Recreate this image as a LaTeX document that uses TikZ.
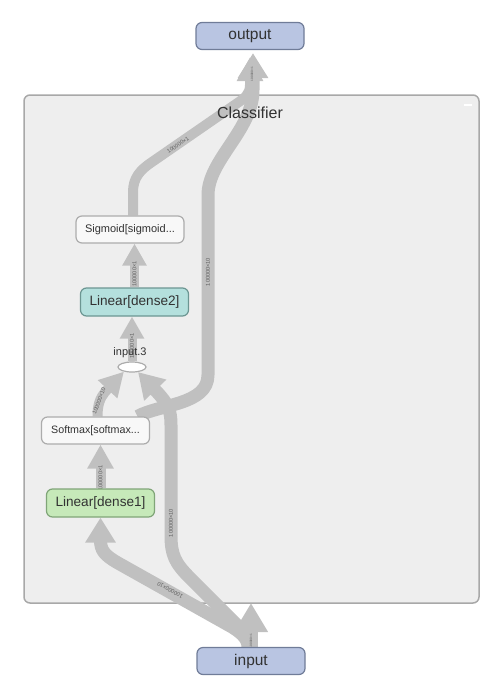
\documentclass[tikz,border=0pt]{standalone}
\usepackage{fontspec}
\setmainfont{Liberation Sans}
\usetikzlibrary{arrows.meta,shapes.geometric}

\definecolor{clsfill}{RGB}{238,238,238}
\definecolor{clsline}{RGB}{168,168,168}
\definecolor{iofill}{RGB}{185,197,226}
\definecolor{ioline}{RGB}{112,124,152}
\definecolor{tealfill}{RGB}{180,224,221}
\definecolor{tealline}{RGB}{108,150,146}
\definecolor{greenfill}{RGB}{198,233,185}
\definecolor{greenline}{RGB}{128,165,120}
\definecolor{opfill}{RGB}{248,248,248}
\definecolor{opline}{RGB}{172,172,172}
\definecolor{edgecol}{RGB}{192,192,192}
\definecolor{txt}{RGB}{50,50,50}
\definecolor{lbl}{RGB}{95,95,95}

\pgfdeclarelayer{back}
\pgfdeclarelayer{flow}
\pgfsetlayers{back,flow,main}

\begin{document}
\begin{tikzpicture}[x=1pt,y=-1pt,
  box/.style={rounded corners=6pt, line width=1.2pt, inner sep=0pt,
    minimum width=108pt, minimum height=27pt, text=txt},
  ionode/.style={box, draw=ioline, fill=iofill, font=\fontsize{15.5}{18}\selectfont},
  opnode/.style={box, draw=opline, fill=opfill, font=\fontsize{11}{13}\selectfont},
  densetwo/.style={box, draw=tealline, fill=tealfill, minimum height=28pt, font=\fontsize{13.6}{16}\selectfont},
  denseone/.style={box, draw=greenline, fill=greenfill, minimum height=28pt, font=\fontsize{13.6}{16}\selectfont},
  thinedge/.style={draw=edgecol, line width=9pt, line join=round,
    -{Triangle[width=23pt,length=22pt]}},
  midedge/.style={draw=edgecol, line width=10pt, line join=round,
    -{Triangle[width=25pt,length=24pt]}},
  thickedge/.style={draw=edgecol, line width=13pt, line join=round,
    -{Triangle[width=29pt,length=25pt]}},
  elabel/.style={text=lbl, inner sep=0pt, font=\fontsize{5.6}{6}\selectfont},
  tinylabel/.style={text=lbl, inner sep=0pt, font=\fontsize{3.2}{4}\selectfont}
]
\useasboundingbox (0,0) rectangle (498,686);

% the Classifier group
\begin{pgfonlayer}{back}
  \node[draw=clsline, fill=clsfill, line width=1.5pt, rounded corners=6pt,
        minimum width=455pt, minimum height=508pt, inner sep=0pt] (cls) at (251.5,349) {};
  \draw[white, line width=2pt] (464,105) -- (472,105);
\end{pgfonlayer}
\node[text=txt, font=\fontsize{16}{18}\selectfont] (title) at (250,113) {Classifier};

% graph nodes
\node[ionode] (out) at (250,36) {output};
\node[ionode] (inp) at (251,661) {input};
\node[opnode] (sig) at (130,229.5) {Sigmoid[sigmoid...};
\node[densetwo] (d2) at (134.5,302) {Linear[dense2]};
\node[ellipse, draw=opline, fill=white, line width=1.2pt, minimum width=28pt,
      minimum height=10pt, inner sep=0pt] (ell) at (132,367) {};
\node[text=txt, font=\fontsize{11}{13}\selectfont] (elltext) at (130,353) {input.3};
\node[opnode, minimum width=108pt, font=\fontsize{10.7}{13}\selectfont] (sm) at (95.5,430.5) {Softmax[softmax...};
\node[denseone] (d1) at (100.5,503) {Linear[dense1]};

\coordinate (clsin) at (251,603);

% data flow
\begin{pgfonlayer}{flow}
  % into the group
  \draw[thickedge, line width=14pt, -{Triangle[width=32pt,length=29pt]}] (inp.north) -- (clsin);
  % input -> dense1
  \draw[thickedge] ([xshift=-3pt]inp.north) .. controls (248,638) and (240,632) .. (232,627)
    -- (118,563) .. controls (104,555) and (100.5,550) .. (100.5,540) -- (d1.south);
  % input -> input.3
  \draw[thickedge] (inp.north) .. controls (251,640) and (246,634) .. (240,628)
    -- (190,578) .. controls (175,563) and (171,555) .. (171,535)
    -- (171,425) .. controls (171,410) and (168,404) .. (157,392) -- (ell.-40);
  % dense1 -> softmax
  \draw[midedge] (d1.north) -- (d1.north |- sm.south);
  % softmax -> input.3
  \draw[midedge] ([xshift=2pt]sm.north) .. controls (97.5,405) and (100,398) .. (105,392) -- (ell.-150);
  % softmax -> output
  \draw[thickedge, shorten >=3pt] ([xshift=42pt]sm.north) .. controls (160,404) and (208,405) .. (208,375)
    -- (208,195) .. controls (208,160) and (253,130) .. (253,90) -- ([xshift=3pt]out.south);
  % input.3 -> dense2
  \draw[thinedge] (ell.north) -- (ell.north |- d2.south);
  % dense2 -> sigmoid
  \draw[thinedge] (d2.north) -- (d2.north |- sig.south);
  % sigmoid -> output
  \draw[midedge, shorten >=7pt] ([xshift=3pt]sig.north) -- (133,192)
    .. controls (133,178) and (140,170) .. (152,162) -- (236,104)
    .. controls (245,98) and (250,94) .. (250,85) -- (out.south);

  % tensor shapes
  \node[elabel, rotate=151] (lind1) at (170,590) {100000×10};
  \node[elabel, rotate=90] (linell) at (171,523) {100000×10};
  \node[elabel, rotate=90] (lsmout) at (208,272) {100000×10};
  \node[elabel, rotate=34] (lsigout) at (178,145) {100000×1};
  \node[elabel, rotate=90] (ld2sig) at (134.5,274) {100000×1};
  \node[elabel, rotate=90] (lelld2) at (132,346) {100000×1};
  \node[elabel, rotate=90] (ld1sm) at (100.5,478) {100000×1};
  \node[elabel, rotate=70] (lsmell) at (99,401) {100000×10};
  \node[tinylabel, rotate=90] (lout) at (252,74) {100000×1};
  \node[tinylabel, rotate=90] (lin) at (251,641) {100000×1};
\end{pgfonlayer}
\end{tikzpicture}
\end{document}
